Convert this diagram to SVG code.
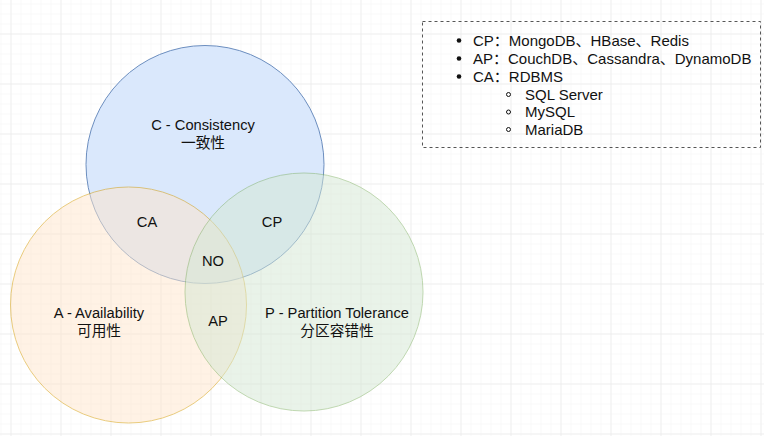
<svg xmlns="http://www.w3.org/2000/svg" width="764" height="436" viewBox="0 0 764 436">
  <defs>
    <pattern id="minor" width="10" height="10" patternUnits="userSpaceOnUse" x="0.5" y="3.5">
      <path d="M0 0 H10 M0 0 V10" fill="none" stroke="#f3f3f3" stroke-width="1"/>
    </pattern>
    <pattern id="major" width="50" height="50" patternUnits="userSpaceOnUse" x="10.5" y="33.5">
      <path d="M0 0 H50 M0 0 V50" fill="none" stroke="#e6e6e6" stroke-width="1"/>
    </pattern>
    <style>
      text { font-family: "Liberation Sans", "Noto Sans CJK SC", sans-serif; font-size: 14.7px; fill: #111111; }
      .mid { text-anchor: middle; }
      .lg { font-size: 15px; }
      .c { fill: #dae8fc; stroke: #6c8ebf; stroke-width: 1; }
      .a { fill: #ffe6cc; stroke: #d79b00; stroke-width: 1; opacity: 0.5; }
      .p { fill: #d5e8d4; stroke: #82b366; stroke-width: 1; opacity: 0.5; }
      .dot { fill: #111111; }
      .ring { fill: none; stroke: #111111; stroke-width: 1; }
    </style>
  </defs>

  <rect width="764" height="436" fill="#ffffff"/>
  <rect width="764" height="436" fill="url(#minor)"/>
  <rect width="764" height="436" fill="url(#major)"/>

  <g id="circle-c">
    <circle class="c" cx="205" cy="164.5" r="119"/>
  </g>
  <g id="circle-a">
    <circle class="a" cx="128.5" cy="305" r="118"/>
  </g>
  <g id="circle-p">
    <circle class="p" cx="304" cy="292" r="119"/>
  </g>

  <g id="label-c">
    <text class="mid" x="203" y="130">C - Consistency</text>
    <text class="mid" x="203" y="148">一致性</text>
  </g>
  <g id="label-a">
    <text class="mid" x="99" y="318">A - Availability</text>
    <text class="mid" x="99" y="336">可用性</text>
  </g>
  <g id="label-p">
    <text class="mid" x="337" y="318">P - Partition Tolerance</text>
    <text class="mid" x="337" y="336">分区容错性</text>
  </g>
  <g id="label-ca"><text class="mid" x="147" y="227">CA</text></g>
  <g id="label-cp"><text class="mid" x="272" y="227">CP</text></g>
  <g id="label-no"><text class="mid" x="213" y="266">NO</text></g>
  <g id="label-ap"><text class="mid" x="218" y="326">AP</text></g>

  <g id="connectors"></g>

  <g id="legend">
    <rect x="422.5" y="21.5" width="338" height="126" fill="none" stroke="#555555" stroke-width="1" stroke-dasharray="3 3"/>
    <circle class="dot" cx="459" cy="40.5" r="2.3"/>
    <circle class="dot" cx="459" cy="58.5" r="2.3"/>
    <circle class="dot" cx="459" cy="76.5" r="2.3"/>
    <circle class="ring" cx="508.5" cy="94.5" r="2"/>
    <circle class="ring" cx="508.5" cy="112" r="2"/>
    <circle class="ring" cx="508.5" cy="129.5" r="2"/>
    <text class="lg" x="473" y="45.5">CP：MongoDB、HBase、Redis</text>
    <text class="lg" x="473" y="63.5">AP：CouchDB、Cassandra、DynamoDB</text>
    <text class="lg" x="473" y="81.5">CA：RDBMS</text>
    <text class="lg" x="525" y="99.5">SQL Server</text>
    <text class="lg" x="525" y="117">MySQL</text>
    <text class="lg" x="525" y="134.5">MariaDB</text>
  </g>
</svg>
